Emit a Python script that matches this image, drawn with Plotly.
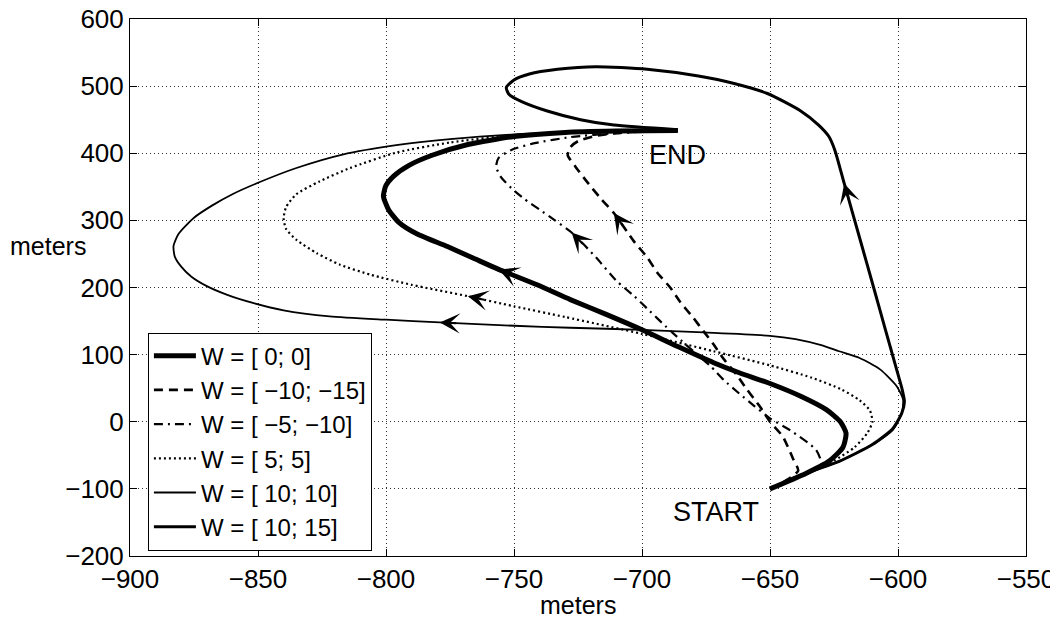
import plotly.graph_objects as go
import math

# ---------------- data ----------------
labels = ["W = [ 0; 0]", "W = [ \u221210; \u221215]", "W = [ \u22125; \u221210]",
          "W = [ 5; 5]", "W = [ 10; 10]", "W = [ 10; 15]"]

w00_x = [-650, -636, -627, -621.5, -620.3, -622.5, -628, -638, -650, -662, -672, -686, -700,
         -714, -728, -741, -756, -766, -776, -788, -795, -799, -801, -800, -797, -791, -782,
         -768, -750, -730, -710, -686]
w00_y = [-100, -77, -59, -38, -17, 0, 18, 38, 57, 73, 88, 112, 137,
         160, 182, 204, 227, 244, 261, 280, 297, 316, 336, 352, 366, 382, 397,
         413, 425, 431, 433, 434]
w00_arrow = 16

wm10m15_x = [-650, -644, -639, -641, -645, -650, -654, -659, -663, -668, -672, -676, -680,
             -685, -689, -694, -698, -703, -711, -716, -722, -726, -729, -728, -725, -718,
             -707, -686]
wm10m15_y = [-100, -88, -73, -55, -22, 0, 23, 48, 70, 93, 115, 135, 155,
             178, 200, 222, 245, 268, 311, 332, 360, 380, 397, 409, 418, 426,
             431, 434]
wm10m15_arrow = 18

wm5m10_x = [-650, -636, -630, -632, -642, -650, -656, -662, -668, -673, -679, -685, -691,
            -697, -703, -710, -718, -727.5, -734, -740, -746, -751, -755, -757, -756, -751,
            -742, -728, -710, -686]
wm5m10_y = [-100, -77, -63, -42, -13, 5, 23, 42, 62, 82, 102, 122, 143,
            165, 187, 210, 245, 282, 300, 316, 332, 348, 364, 380, 393, 405,
            415, 424, 430, 434]
wm5m10_arrow = 17

w55_x = [-650, -636, -625, -617, -612, -610, -611, -615, -622, -634, -650, -672, -700, -730,
         -750, -768, -790, -806, -818, -827, -835, -839, -840, -839, -835, -826, -814, -796,
         -775, -750, -720, -686]
w55_y = [-100, -77, -58, -38, -17, 0, 17, 32, 48, 66, 84, 105, 131, 156,
         172, 187, 204, 219, 234, 251, 271, 287, 303, 320, 339, 358, 378, 401,
         416, 427, 432, 434]
w55_arrow = 15

w1010_x = [-650, -636, -623, -610, -602, -598.5, -598, -600.5, -607, -615, -623, -630, -640,
           -650, -676, -700, -728, -750, -779, -800, -822, -840, -852, -862, -870, -876, -880,
           -882.5, -883, -881, -875, -868, -860, -850, -835, -817, -796, -775, -750, -720,
           -686]
w1010_y = [-100, -77, -59, -34, -12, 13, 33, 53, 78, 95, 105, 114, 123,
           128, 133, 137, 140, 143, 148, 152, 157, 166, 177, 189, 202, 216, 231,
           246, 262, 280, 304, 322, 339, 356, 378, 398, 412, 421, 428, 432,
           434]
w1010_arrow = 18

w1015_x = [-650, -636, -623, -610, -602, -598.5, -597.5, -598.5, -601.3, -604.9, -609.3,
           -614.7, -621, -624.7, -627, -631, -638, -651, -664, -678, -698, -718, -733, -744,
           -750, -753, -752, -747, -737, -724, -711, -686]
w1015_y = [-100, -77, -59, -34, -10, 13, 30, 50, 88, 137, 197,
           270, 355, 405, 425, 442, 463, 489, 504, 515, 525, 529, 525, 518,
           509, 498, 488, 477, 463, 450, 442, 435]
w1015_arrow = 12

series_x = [w00_x, wm10m15_x, wm5m10_x, w55_x, w1010_x, w1015_x]
series_y = [w00_y, wm10m15_y, wm5m10_y, w55_y, w1010_y, w1015_y]
arrow_idx = [w00_arrow, wm10m15_arrow, wm5m10_arrow, w55_arrow, w1010_arrow, w1015_arrow]

x_ticks = [-900, -850, -800, -750, -700, -650, -600, -550]
y_ticks = [-200, -100, 0, 100, 200, 300, 400, 500, 600]

start_label = ("START", -671, -134)
end_label = ("END", -686, 398)

# ---------------- styles ----------------
widths = [5, 2.6, 2.2, 2.2, 1.8, 3]
dashes = ["solid", "9px,6px", "9px,5px,2px,5px", "2px,3px", "solid", "solid"]

# the page body adds an 8px offset; figure sized so the plot area lands where it should
W, H = 1050, 616
ML, MR, MT, MB = 122, 32, 11, 68
FONT = "Liberation Sans, Arial, Helvetica, sans-serif"

fig = go.Figure()
for i in range(6):
    fig.add_trace(go.Scatter(
        x=series_x[i], y=series_y[i], mode="lines", name=labels[i],
        line=dict(color="black", width=widths[i], dash=dashes[i],
                  shape="spline", smoothing=0.6),
    ))

pw = W - ML - MR
ph = H - MT - MB
sx = pw / (x_ticks[-1] - x_ticks[0])
sy = ph / (y_ticks[-1] - y_ticks[0])
annotations = []
for i in range(6):
    k = arrow_idx[i]
    xs, ys = series_x[i], series_y[i]
    dx = (xs[k] - xs[k - 1]) * sx
    dy = -(ys[k] - ys[k - 1]) * sy
    n = math.hypot(dx, dy)
    L = 18
    annotations.append(dict(
        x=xs[k], y=ys[k], xref="x", yref="y", text="",
        showarrow=True, ax=-dx / n * L, ay=-dy / n * L,
        arrowhead=3, arrowsize=1.7, arrowwidth=2, arrowcolor="black",
    ))

for txt, tx, ty in [start_label, end_label]:
    annotations.append(dict(x=tx, y=ty, xref="x", yref="y", text=txt, showarrow=False,
                            font=dict(size=27, color="black", family=FONT)))

annotations.append(dict(x=-122 / pw, y=(ph + MT - 238) / ph, xref="paper", yref="paper",
                        text="meters", showarrow=False, xanchor="left", yanchor="middle",
                        font=dict(size=25, color="black", family=FONT)))
annotations.append(dict(x=0.5, y=(ph + MT - 597) / ph, xref="paper", yref="paper",
                        text="meters", showarrow=False, xanchor="center", yanchor="middle",
                        font=dict(size=25, color="black", family=FONT)))

axis_common = dict(showgrid=True, gridcolor="#333", griddash="1px,3px", gridwidth=1,
                   zeroline=False, showline=True, linecolor="black", linewidth=1,
                   mirror="allticks", ticks="inside", ticklen=7, tickcolor="black",
                   automargin=False, ticklabeloverflow="allow",
                   tickfont=dict(size=26, color="black", family=FONT))

fig.update_layout(
    width=W, height=H,
    margin=dict(l=ML, r=MR, t=MT, b=MB, autoexpand=False),
    paper_bgcolor="white", plot_bgcolor="white",
    font=dict(family=FONT, color="black"),
    xaxis=dict(range=[x_ticks[0], x_ticks[-1]], tickvals=x_ticks, **axis_common),
    yaxis=dict(range=[y_ticks[0], y_ticks[-1]], tickvals=y_ticks, **axis_common),
    legend=dict(x=0.02, y=0.416, xanchor="left", yanchor="top",
                bgcolor="white", bordercolor="black", borderwidth=1,
                font=dict(size=24, color="black", family=FONT),
                itemwidth=42),
    showlegend=True,
    annotations=annotations,
)

fig.write_html("out.html")
